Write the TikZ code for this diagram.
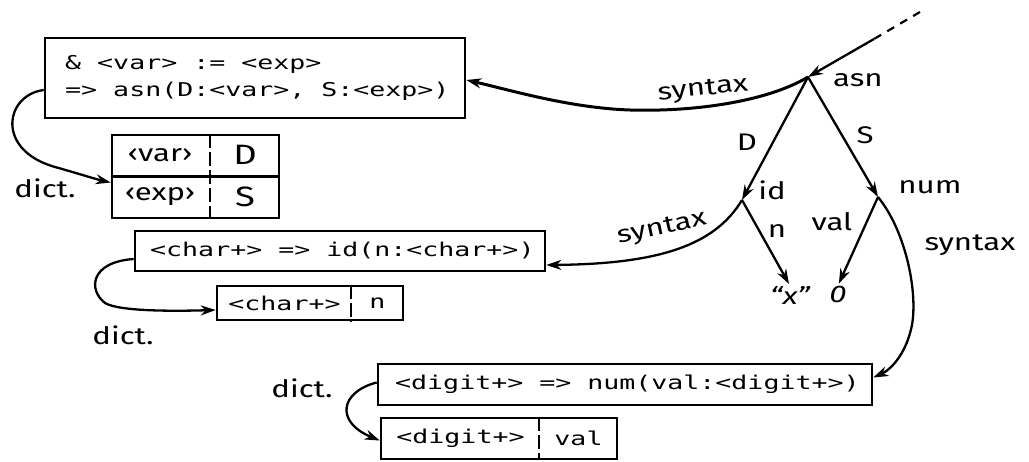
\documentclass[tikz,border=0pt]{standalone}
\usepackage{fontspec}
\usetikzlibrary{arrows.meta,calc}
\newfontfamily\monof[FakeStretch=1.4]{DejaVu Sans Mono}
\newfontfamily\handf[FakeStretch=1.3]{Fira Sans}
\tikzset{
  box/.style={draw, line width=2.6pt, inner sep=0pt},
  tt/.style={font=\monof\fontsize{19}{27}\selectfont, inner sep=0pt, anchor=west, align=left},
  ttc/.style={font=\monof\fontsize{19}{27}\selectfont, inner sep=0pt},
  hw/.style={font=\handf\fontsize{24}{28}\selectfont, inner sep=0pt},
  hwbig/.style={font=\handf\fontsize{28}{30}\selectfont, inner sep=0pt},
  conn/.style={line width=2.3pt, -{Stealth[length=15pt,width=10pt]}},
  divider/.style={line width=1.8pt, dash pattern=on 14pt off 4pt},
  rowline/.style={line width=2.4pt},
}
\begin{document}
\begin{tikzpicture}[x=1pt,y=-1pt]
\useasboundingbox (0,0) rectangle (1029,462);

% ---- top box and its dictionary
\node[box, minimum width=420pt, minimum height=80pt] (box1) at (255,78) {};
\node[tt] (txt1) at (65,77.5) {\& <var> := <exp>\\=> asn(D:<var>, S:<exp>)};
\node[box, minimum width=167pt, minimum height=83pt] (t1) at (195.5,176.5) {};
\draw[rowline] (t1.west) -- (t1.east);
\draw[divider] ($(t1.north west)+(99,0)$) -- ($(t1.south west)+(99,0)$);
\node[hw] (c1a) at (160,155) {‹var›};
\node[hwbig] (c1b) at (245,155) {D};
\node[hw] (c1c) at (160,197) {‹exp›};
\node[hwbig] (c1d) at (245,197) {S};
\draw[conn] ($(box1.west)+(0,12)$) .. controls (5,95) and (-5,150) .. (55,167)
   .. controls (80,174) and (95,179) .. ($(t1.west)+(0,6)$);
\node[hw] (dict1) at (45,188) {dict.};

% ---- id box and its dictionary
\node[box, minimum width=410pt, minimum height=40pt] (box2) at (340,251) {};
\node[tt] (txt2) at (150,251) {<char+> => id(n:<char+>)};
\node[box, minimum width=186pt, minimum height=34pt] (t2) at (310,303) {};
\draw[divider] ($(t2.north west)+(135,0)$) -- ($(t2.south west)+(135,0)$);
\node[ttc] (c2a) at (284.5,303) {<char+>};
\node[ttc] (c2b) at (377.5,303) {n};
\draw[conn] ($(box2.west)+(0,8)$) .. controls (90,262) and (88,290) .. (105,303)
   .. controls (120,312) and (180,311) .. ($(t2.west)+(0,7)$);
\node[hw] (dict2) at (123,335) {dict.};

% ---- num box and its dictionary
\node[box, minimum width=494pt, minimum height=41pt] (box3) at (625,384.5) {};
\node[tt] (txt3) at (395,384.5) {<digit+> => num(val:<digit+>)};
\node[box, minimum width=236pt, minimum height=41pt] (t3) at (499,438.5) {};
\draw[divider] ($(t3.north west)+(159,0)$) -- ($(t3.south west)+(159,0)$);
\node[ttc] (c3a) at (460.5,438.5) {<digit+>};
\node[ttc] (c3b) at (578.5,438.5) {val};
\draw[conn] ($(box3.west)+(0,-2)$) .. controls (340,392) and (335,422) .. ($(t3.west)+(0,2)$);
\node[hw] (dict3) at (302,388) {dict.};

% ---- tree
\coordinate (asn) at (808,77);
\coordinate (id) at (742,200);
\coordinate (num) at (878,197);
\coordinate (dashend) at (920,12);
\coordinate (dashmid) at (874,39);
\node[hw] (xlab) at (790,295) {\itshape “x”};
\node[hw] (zero) at (838,294) {\itshape 0};

\draw[line width=2.2pt, dash pattern=on 8pt off 7pt] (dashend) -- (dashmid);
\draw[conn] (dashmid) -- (asn);
\draw[conn] (asn) -- (id);
\draw[conn] (asn) -- (num);
\draw[conn, shorten >=2pt] (id) -- (xlab.north);
\draw[conn, shorten >=2pt] (num) -- (zero.north);

\draw[conn, line width=3pt] (asn) .. controls (770,100) and (700,112) .. (630,110)
   .. controls (570,108) and (510,90) .. ($(box1.east)+(0,2)$);
\draw[conn] (id) .. controls (715,245) and (660,264) .. ($(box2.east)+(0,14)$);
\draw[conn] (num) .. controls (905,230) and (918,290) .. (912,325)
   .. controls (906,355) and (890,370) .. ($(box3.east)+(0,-7)$);

\node[hw] (lasn) at (858,80) {asn};
\node[hw] (lD) at (747,142) {D};
\node[hw] (lS) at (865,135) {S};
\node[hw] (lid) at (772,190) {id};
\node[hw] (lnum) at (930,187) {num};
\node[hw] (ln) at (777,231) {n};
\node[hw] (lval) at (832,222) {val};
\node[hw, rotate=6] (syn1) at (703,90) {syntax};
\node[hw, rotate=12] (syn2) at (662,229) {syntax};
\node[hw] (syn3) at (970,245) {syntax};
\end{tikzpicture}
\end{document}
